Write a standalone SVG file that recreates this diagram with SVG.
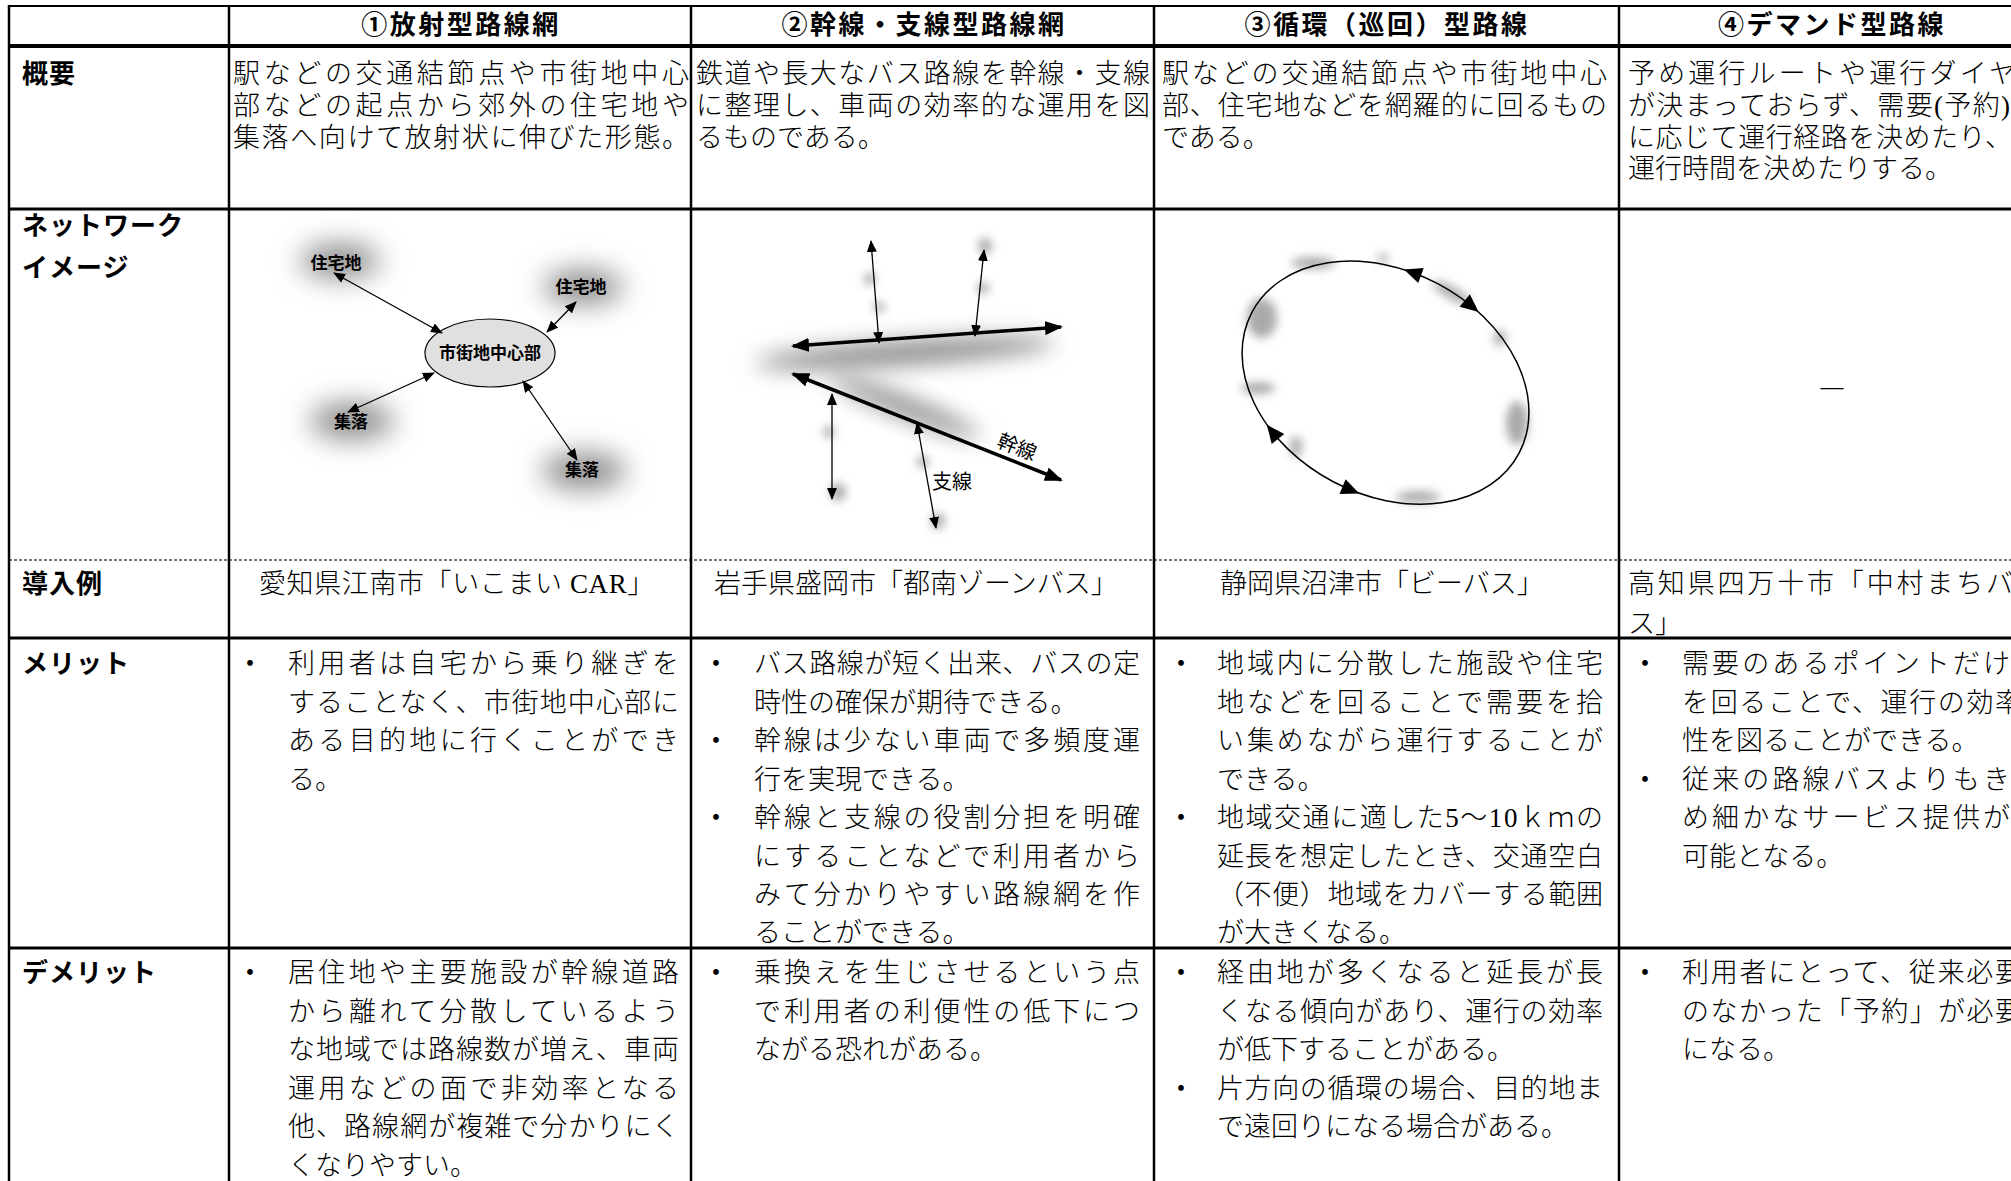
<svg xmlns="http://www.w3.org/2000/svg" width="2011" height="1181" viewBox="0 0 2011 1181">
<style>
.t{font-family:'Liberation Serif','Noto Sans CJK JP',serif;font-size:27px;font-weight:300;fill:#000}
.bu{font-family:'Noto Sans CJK JP',sans-serif;font-size:27px;fill:#000;text-anchor:middle}
.h{font-family:'Noto Sans CJK JP',sans-serif;font-weight:bold;font-size:26px;letter-spacing:2.5px;text-anchor:middle;fill:#000}
.r{font-family:'Noto Sans CJK JP',sans-serif;font-weight:bold;font-size:26px;letter-spacing:1px;fill:#000}
.n{font-family:'Noto Sans CJK JP',sans-serif;font-weight:bold;font-size:17px;text-anchor:middle;fill:#000}
.lb{font-family:'Noto Sans CJK JP',sans-serif;font-size:20px;fill:#000}
.grid{stroke:#000;fill:none}
.thin{stroke:#000;stroke-width:1.3;fill:none}
.trunk{stroke:#000;stroke-width:3.5;fill:none}
.glow{fill:#8a8a8a}
.dot{fill:#aaa}
</style>
<defs>
<filter id="bl" x="-100%" y="-100%" width="300%" height="300%"><feGaussianBlur stdDeviation="14"/></filter>
<filter id="bm" x="-100%" y="-100%" width="300%" height="300%"><feGaussianBlur stdDeviation="11"/></filter>
<filter id="bs" x="-100%" y="-100%" width="300%" height="300%"><feGaussianBlur stdDeviation="5"/></filter>
<marker id="as" viewBox="0 0 12 10" refX="11" refY="5" markerWidth="12" markerHeight="10" markerUnits="userSpaceOnUse" orient="auto-start-reverse"><path d="M0,0 L12,5 L0,10 Z" fill="#000"/></marker>
<marker id="al" viewBox="0 0 18 14" refX="16" refY="7" markerWidth="18" markerHeight="14" markerUnits="userSpaceOnUse" orient="auto-start-reverse"><path d="M0,0 L18,7 L0,14 Z" fill="#000"/></marker>
<path id="tri" d="M9,0 L-9,-8 L-9,8 Z" fill="#000"/>
</defs>
<rect width="2011" height="1181" fill="#fff"/>

<g id="table-grid">
<line class="grid" x1="9" y1="6" x2="2011" y2="6" stroke-width="2"/>
<line class="grid" x1="9" y1="46" x2="2011" y2="46" stroke-width="4"/>
<line class="grid" x1="9" y1="209" x2="2011" y2="209" stroke-width="3"/>
<line x1="9" y1="560" x2="2011" y2="560" stroke="#777" stroke-width="2" stroke-dasharray="3 2"/>
<line class="grid" x1="9" y1="638" x2="2011" y2="638" stroke-width="3"/>
<line class="grid" x1="9" y1="948" x2="2011" y2="948" stroke-width="3"/>
<line class="grid" x1="9" y1="5" x2="9" y2="1181" stroke-width="2.5"/>
<line class="grid" x1="229" y1="5" x2="229" y2="1181" stroke-width="2.5"/>
<line class="grid" x1="691" y1="5" x2="691" y2="1181" stroke-width="2.5"/>
<line class="grid" x1="1154" y1="5" x2="1154" y2="1181" stroke-width="2.5"/>
<line class="grid" x1="1619" y1="5" x2="1619" y2="1181" stroke-width="2.5"/>
</g>

<g id="header">
<text class="h" x="461" y="34">①放射型路線網</text>
<text class="h" x="924" y="34">②幹線・支線型路線網</text>
<text class="h" x="1387" y="34">③循環（巡回）型路線</text>
<text class="h" x="1832" y="34">④デマンド型路線</text>
</g>

<g id="row-labels">
<text class="r" x="22" y="83">概要</text>
<text class="r" x="22" y="235">ネットワーク</text>
<text class="r" x="22" y="277">イメージ</text>
<text class="r" x="22" y="593">導入例</text>
<text class="r" x="22" y="673">メリット</text>
<text class="r" x="22" y="982">デメリット</text>
</g>

<g id="overview">
<text class="t" x="233" y="83" textLength="456" lengthAdjust="spacing">駅などの交通結節点や市街地中心</text>
<text class="t" x="233" y="115" textLength="456" lengthAdjust="spacing">部などの起点から郊外の住宅地や</text>
<text class="t" x="233" y="147" textLength="456" lengthAdjust="spacing">集落へ向けて放射状に伸びた形態。</text>
<text class="t" x="696" y="83" textLength="454" lengthAdjust="spacing">鉄道や長大なバス路線を幹線・支線</text>
<text class="t" x="696" y="115" textLength="454" lengthAdjust="spacing">に整理し、車両の効率的な運用を図</text>
<text class="t" x="696" y="147">るものである。</text>
<text class="t" x="1162" y="83" textLength="445" lengthAdjust="spacing">駅などの交通結節点や市街地中心</text>
<text class="t" x="1162" y="115" textLength="445" lengthAdjust="spacing">部、住宅地などを網羅的に回るもの</text>
<text class="t" x="1162" y="147">である。</text>
<text class="t" x="1628" y="83" textLength="388" lengthAdjust="spacing">予め運行ルートや運行ダイヤ</text>
<text class="t" x="1628" y="115" textLength="382" lengthAdjust="spacing">が決まっておらず、需要(予約)</text>
<text class="t" x="1628" y="147" textLength="384" lengthAdjust="spacing">に応じて運行経路を決めたり、</text>
<text class="t" x="1628" y="178">運行時間を決めたりする。</text>
</g>

<!-- Network image 1: radial -->
<g id="radial-glows" filter="url(#bl)">
<ellipse class="glow" cx="340" cy="261" rx="40" ry="17"/>
<ellipse class="glow" cx="583" cy="287" rx="40" ry="17"/>
<ellipse class="glow" cx="352" cy="421" rx="42" ry="18"/>
<ellipse class="glow" cx="584" cy="471" rx="42" ry="18"/>
</g>
<g id="node-center">
<ellipse cx="490" cy="353" rx="65" ry="34" fill="#e0e0e0" stroke="#000" stroke-width="1.2"/>
<text class="n" x="490" y="359" font-size="18">市街地中心部</text>
</g>
<g id="node-jutaku1"><text class="n" x="336" y="269">住宅地</text></g>
<g id="node-jutaku2"><text class="n" x="581" y="293">住宅地</text></g>
<g id="node-shuraku1"><text class="n" x="351" y="428">集落</text></g>
<g id="node-shuraku2"><text class="n" x="582" y="476">集落</text></g>

<!-- Network image 2: trunk/branch -->
<g id="trunk-glows">
<ellipse cx="905" cy="353" rx="150" ry="12" fill="#8a8a8a" filter="url(#bm)" transform="rotate(-4 905 353)"/>
<ellipse cx="905" cy="407" rx="80" ry="10" fill="#8a8a8a" filter="url(#bm)" transform="rotate(21.5 905 407)"/>
<g filter="url(#bs)">
<ellipse class="dot" cx="870" cy="279" rx="6" ry="6"/>
<ellipse class="dot" cx="879" cy="307" rx="6" ry="5"/>
<ellipse class="dot" cx="985" cy="246" rx="7" ry="8"/>
<ellipse class="dot" cx="983" cy="288" rx="6" ry="6"/>
<ellipse class="dot" cx="829" cy="432" rx="6" ry="6"/>
<ellipse class="dot" cx="838" cy="492" rx="8" ry="9"/>
<ellipse class="dot" cx="923" cy="462" rx="6" ry="6"/>
<ellipse class="dot" cx="938" cy="521" rx="7" ry="8"/>
</g>
</g>
<g id="label-kansen"><text class="lb" x="1017" y="454" text-anchor="middle" transform="rotate(21.5 1017 447)">幹線</text></g>
<g id="label-shisen"><text class="lb" x="932" y="489">支線</text></g>

<!-- Network image 3: loop -->
<g id="loop-glows" filter="url(#bs)">
<ellipse class="dot" cx="1313" cy="263" rx="22" ry="6"/>
<ellipse class="dot" cx="1383" cy="258" rx="6" ry="4"/>
<ellipse class="dot" cx="1452" cy="293" rx="22" ry="6" transform="rotate(30 1452 293)"/>
<ellipse class="dot" cx="1262" cy="318" rx="15" ry="20"/>
<ellipse class="dot" cx="1500" cy="338" rx="6" ry="8"/>
<ellipse class="dot" cx="1258" cy="388" rx="17" ry="6"/>
<ellipse class="dot" cx="1296" cy="447" rx="6" ry="11"/>
<ellipse class="dot" cx="1517" cy="423" rx="11" ry="22"/>
<ellipse class="dot" cx="1418" cy="497" rx="22" ry="6"/>
</g>

<g id="demand-image"><text class="bu" x="1832" y="399">―</text></g>

<g id="connectors">
<line class="thin" x1="334" y1="273" x2="442" y2="333" marker-start="url(#as)" marker-end="url(#as)"/>
<line class="thin" x1="576" y1="302" x2="547" y2="332" marker-start="url(#as)" marker-end="url(#as)"/>
<line class="thin" x1="434" y1="373" x2="348" y2="412" marker-start="url(#as)" marker-end="url(#as)"/>
<line class="thin" x1="523" y1="381" x2="577" y2="460" marker-start="url(#as)" marker-end="url(#as)"/>
<line class="trunk" x1="793" y1="346" x2="1061" y2="327" marker-start="url(#al)" marker-end="url(#al)"/>
<line class="trunk" x1="793" y1="374" x2="1061" y2="480" marker-start="url(#al)" marker-end="url(#al)"/>
<line class="thin" x1="871" y1="241" x2="879" y2="343" marker-start="url(#as)" marker-end="url(#as)"/>
<line class="thin" x1="984" y1="250" x2="975" y2="336" marker-start="url(#as)" marker-end="url(#as)"/>
<line class="thin" x1="832" y1="394" x2="832" y2="499" marker-start="url(#as)" marker-end="url(#as)"/>
<line class="thin" x1="917" y1="423" x2="936" y2="528" marker-start="url(#as)" marker-end="url(#as)"/>
<ellipse cx="1385.5" cy="382.7" rx="151" ry="112" transform="rotate(27.8 1385.5 382.7)" fill="none" stroke="#000" stroke-width="1.5"/>
<use href="#tri" transform="translate(1412.5 272.5) rotate(200)"/>
<use href="#tri" transform="translate(1471.7 306.2) rotate(39.5)"/>
<use href="#tri" transform="translate(1272.4 431.9) rotate(231.6)"/>
<use href="#tri" transform="translate(1350.9 490) rotate(22.3)"/>
</g>

<g id="examples">
<text class="t" x="259" y="593" letter-spacing="0.6">愛知県江南市「いこまい CAR」</text>
<text class="t" x="714" y="593">岩手県盛岡市「都南ゾーンバス」</text>
<text class="t" x="1220" y="593">静岡県沼津市「ビーバス」</text>
<text class="t" x="1628" y="593" textLength="385" lengthAdjust="spacing">高知県四万十市「中村まちバ</text>
<text class="t" x="1628" y="633">ス」</text>
</g>

<g id="merit-1">
<text class="bu" x="250" y="673">・</text>
<text class="t" x="288" y="673" textLength="391" lengthAdjust="spacing">利用者は自宅から乗り継ぎを</text>
<text class="t" x="288" y="711.5" textLength="391" lengthAdjust="spacing">することなく、市街地中心部に</text>
<text class="t" x="288" y="750" textLength="391" lengthAdjust="spacing">ある目的地に行くことができ</text>
<text class="t" x="288" y="788.5">る。</text>
</g>
<g id="merit-2">
<text class="bu" x="716" y="673">・</text>
<text class="t" x="754" y="673" textLength="386" lengthAdjust="spacing">バス路線が短く出来、バスの定</text>
<text class="t" x="754" y="711.5">時性の確保が期待できる。</text>
<text class="bu" x="716" y="750">・</text>
<text class="t" x="754" y="750" textLength="386" lengthAdjust="spacing">幹線は少ない車両で多頻度運</text>
<text class="t" x="754" y="788.5">行を実現できる。</text>
<text class="bu" x="716" y="827">・</text>
<text class="t" x="754" y="827" textLength="386" lengthAdjust="spacing">幹線と支線の役割分担を明確</text>
<text class="t" x="754" y="865.5" textLength="386" lengthAdjust="spacing">にすることなどで利用者から</text>
<text class="t" x="754" y="904" textLength="386" lengthAdjust="spacing">みて分かりやすい路線網を作</text>
<text class="t" x="754" y="942">ることができる。</text>
</g>
<g id="merit-3">
<text class="bu" x="1181" y="673">・</text>
<text class="t" x="1217" y="673" textLength="386" lengthAdjust="spacing">地域内に分散した施設や住宅</text>
<text class="t" x="1217" y="711.5" textLength="386" lengthAdjust="spacing">地などを回ることで需要を拾</text>
<text class="t" x="1217" y="750" textLength="386" lengthAdjust="spacing">い集めながら運行することが</text>
<text class="t" x="1217" y="788.5">できる。</text>
<text class="bu" x="1181" y="827">・</text>
<text class="t" x="1217" y="827" textLength="386" lengthAdjust="spacing">地域交通に適した5～10ｋｍの</text>
<text class="t" x="1217" y="865.5" textLength="386" lengthAdjust="spacing">延長を想定したとき、交通空白</text>
<text class="t" x="1217" y="904" textLength="386" lengthAdjust="spacing">（不便）地域をカバーする範囲</text>
<text class="t" x="1217" y="942">が大きくなる。</text>
</g>
<g id="merit-4">
<text class="bu" x="1645" y="673">・</text>
<text class="t" x="1682" y="673" textLength="328" lengthAdjust="spacing">需要のあるポイントだけ</text>
<text class="t" x="1682" y="711.5" textLength="340" lengthAdjust="spacing">を回ることで、運行の効率</text>
<text class="t" x="1682" y="750">性を図ることができる。</text>
<text class="bu" x="1645" y="788.5">・</text>
<text class="t" x="1682" y="788.5" textLength="328" lengthAdjust="spacing">従来の路線バスよりもき</text>
<text class="t" x="1682" y="827" textLength="328" lengthAdjust="spacing">め細かなサービス提供が</text>
<text class="t" x="1682" y="865.5">可能となる。</text>
</g>

<g id="demerit-1">
<text class="bu" x="250" y="982">・</text>
<text class="t" x="288" y="982" textLength="391" lengthAdjust="spacing">居住地や主要施設が幹線道路</text>
<text class="t" x="288" y="1020.5" textLength="391" lengthAdjust="spacing">から離れて分散しているよう</text>
<text class="t" x="288" y="1059" textLength="391" lengthAdjust="spacing">な地域では路線数が増え、車両</text>
<text class="t" x="288" y="1097.5" textLength="391" lengthAdjust="spacing">運用などの面で非効率となる</text>
<text class="t" x="288" y="1136" textLength="391" lengthAdjust="spacing">他、路線網が複雑で分かりにく</text>
<text class="t" x="288" y="1174.5">くなりやすい。</text>
</g>
<g id="demerit-2">
<text class="bu" x="716" y="982">・</text>
<text class="t" x="754" y="982" textLength="386" lengthAdjust="spacing">乗換えを生じさせるという点</text>
<text class="t" x="754" y="1020.5" textLength="386" lengthAdjust="spacing">で利用者の利便性の低下につ</text>
<text class="t" x="754" y="1059">ながる恐れがある。</text>
</g>
<g id="demerit-3">
<text class="bu" x="1181" y="982">・</text>
<text class="t" x="1217" y="982" textLength="386" lengthAdjust="spacing">経由地が多くなると延長が長</text>
<text class="t" x="1217" y="1020.5" textLength="386" lengthAdjust="spacing">くなる傾向があり、運行の効率</text>
<text class="t" x="1217" y="1059">が低下することがある。</text>
<text class="bu" x="1181" y="1097.5">・</text>
<text class="t" x="1217" y="1097.5" textLength="386" lengthAdjust="spacing">片方向の循環の場合、目的地ま</text>
<text class="t" x="1217" y="1136">で遠回りになる場合がある。</text>
</g>
<g id="demerit-4">
<text class="bu" x="1645" y="982">・</text>
<text class="t" x="1682" y="982" textLength="340" lengthAdjust="spacing">利用者にとって、従来必要</text>
<text class="t" x="1682" y="1020.5" textLength="340" lengthAdjust="spacing">のなかった「予約」が必要</text>
<text class="t" x="1682" y="1059">になる。</text>
</g>
</svg>
